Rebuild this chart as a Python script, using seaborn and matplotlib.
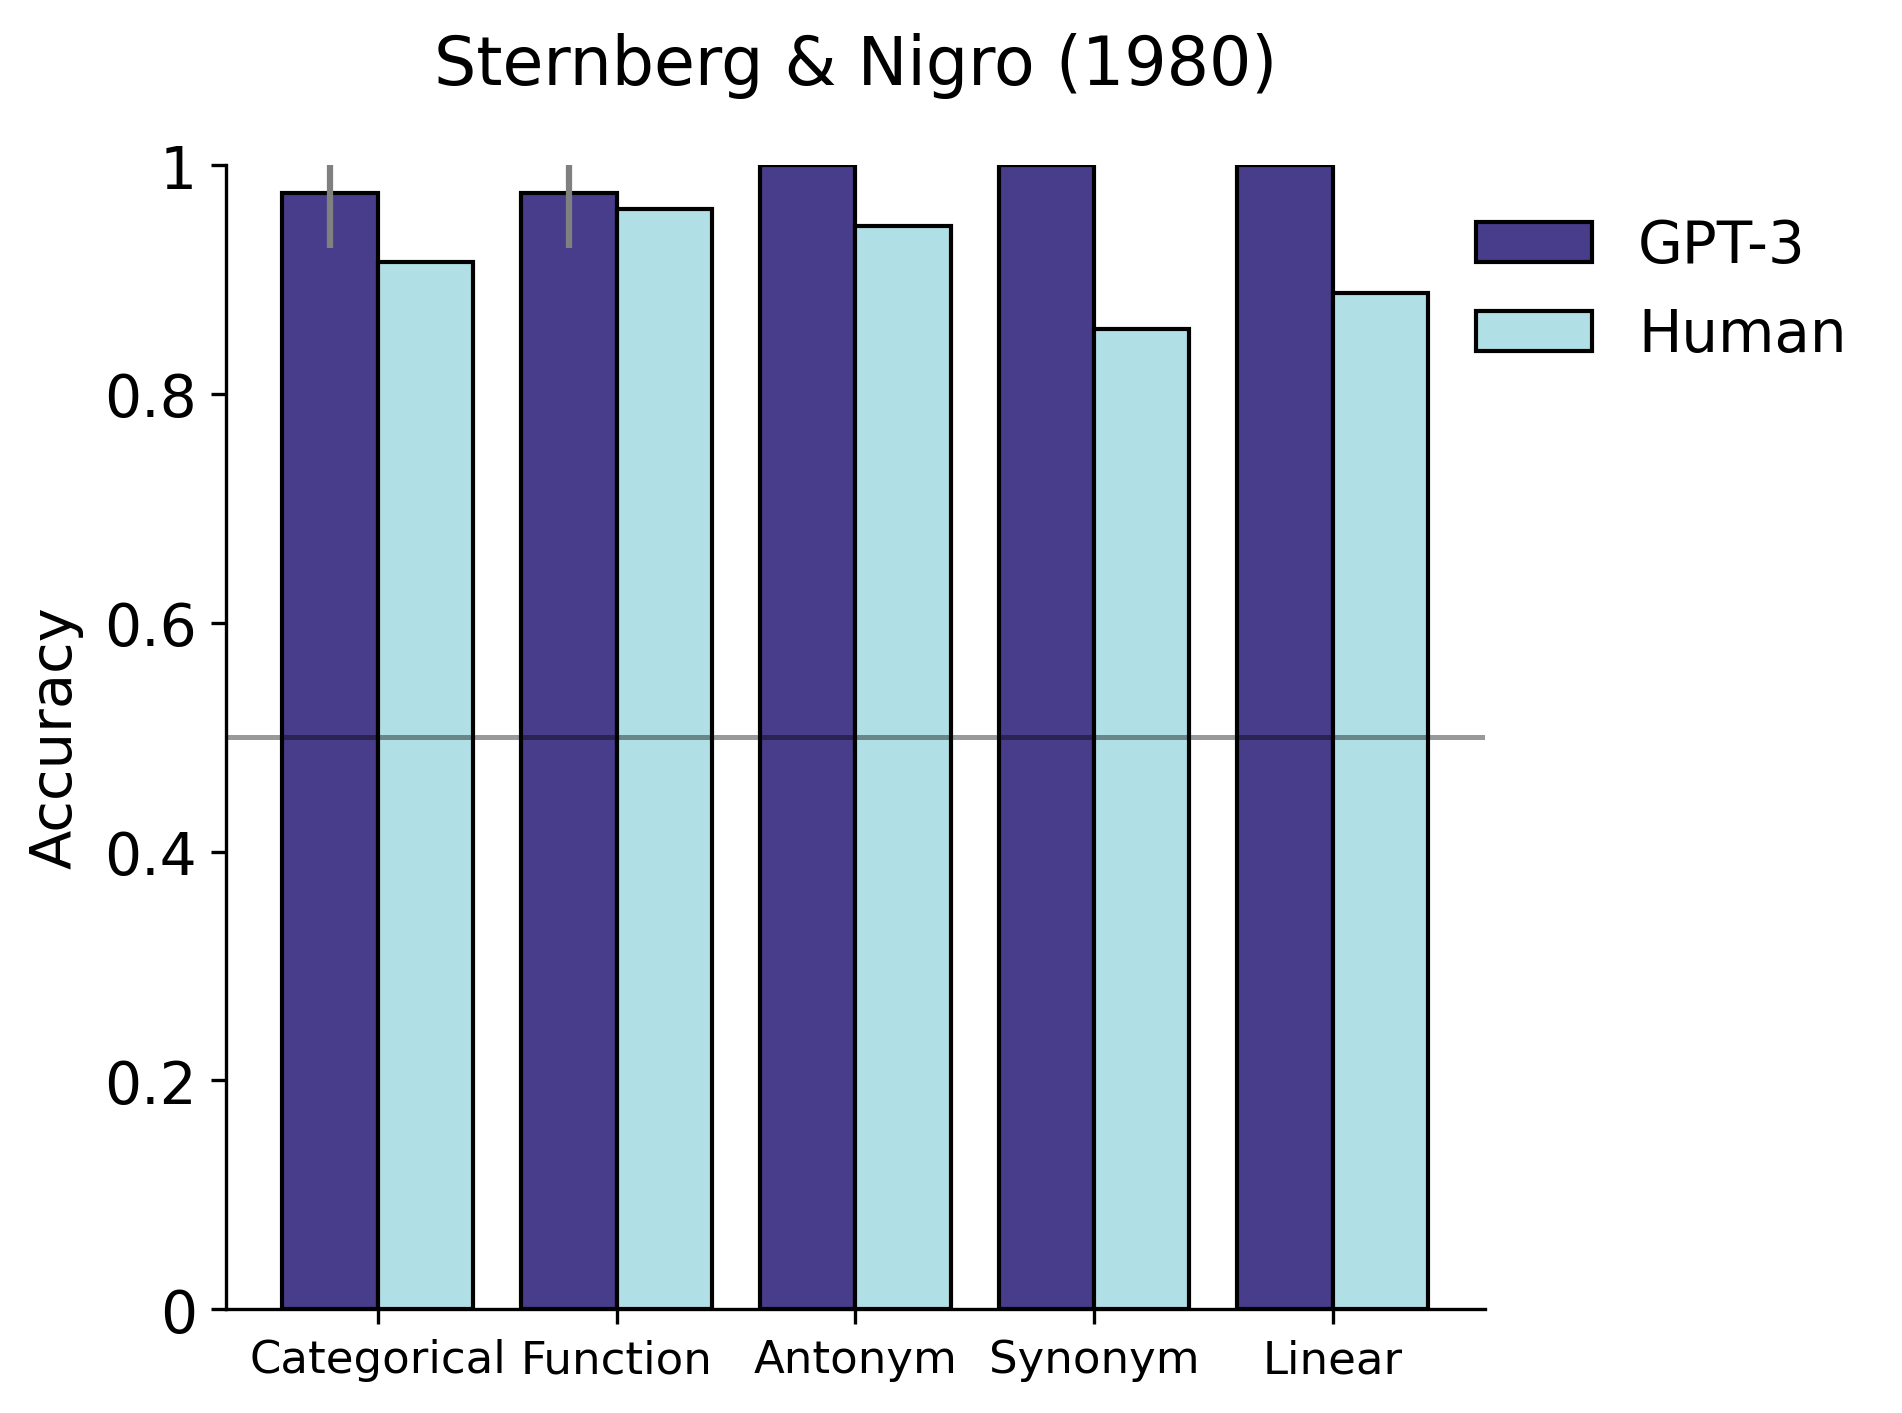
import numpy as np
import pandas as pd
import matplotlib
matplotlib.use("Agg")
import matplotlib.pyplot as plt
import seaborn as sns

categories = ["Categorical", "Function", "Antonym", "Synonym", "Linear"]
gpt3_acc = [0.976, 0.976, 1.0, 1.0, 1.0]
gpt3_err = [0.048, 0.048, 0.0, 0.0, 0.0]
human_acc = [0.915, 0.9615, 0.947, 0.857, 0.888]
groups = ["GPT-3", "Human"]
colors = ["#483D8B", "#B0E0E6"]

df = pd.DataFrame({
    "Relation": categories * 2,
    "Accuracy": gpt3_acc + human_acc,
    "Model": [groups[0]] * len(categories) + [groups[1]] * len(categories),
})

sns.set_style("ticks")
plt.rcParams["font.family"] = ["DejaVu Sans"]
for k in ["text.color", "axes.labelcolor", "xtick.color", "ytick.color", "axes.edgecolor"]:
    plt.rcParams[k] = "black"

fig = plt.figure(figsize=(1902 / 300, 1414 / 300), dpi=300)
ax = fig.add_axes([0.119, 0.0735, 0.662, 0.809])

sns.barplot(data=df, x="Relation", y="Accuracy", hue="Model", order=categories,
            hue_order=groups, palette=colors, edgecolor="black", linewidth=1.0,
            errorbar=None, width=0.8, ax=ax, saturation=1)

xpos = np.arange(len(categories)) - 0.2
mask = np.array(gpt3_err) > 0
ax.errorbar(xpos[mask], np.array(gpt3_acc)[mask], yerr=np.array(gpt3_err)[mask],
            fmt="none", ecolor="gray", elinewidth=1.5, capsize=0, zorder=5)

ax.axhline(0.5, color="black", alpha=0.4, linewidth=1.2, zorder=6)

ax.set_ylim(0, 1)
ax.set_xlim(-0.635, 4.64)
ax.set_yticks([0, 0.2, 0.4, 0.6, 0.8, 1.0])
ax.set_yticklabels(["0", "0.2", "0.4", "0.6", "0.8", "1"], fontsize=14)
ax.tick_params(axis="x", labelsize=10.8)
ax.set_xlabel("")
ax.set_ylabel("Accuracy", fontsize=13.8, labelpad=5)
ax.set_title("Sternberg & Nigro (1980)", fontsize=16, pad=19.5)
sns.despine(ax=ax)

ax.legend(loc="upper left", bbox_to_anchor=(0.951, 1.0), frameon=False,
          fontsize=13.9, handlelength=2.0, labelspacing=0.55)

fig.savefig("out.png", dpi=300)
